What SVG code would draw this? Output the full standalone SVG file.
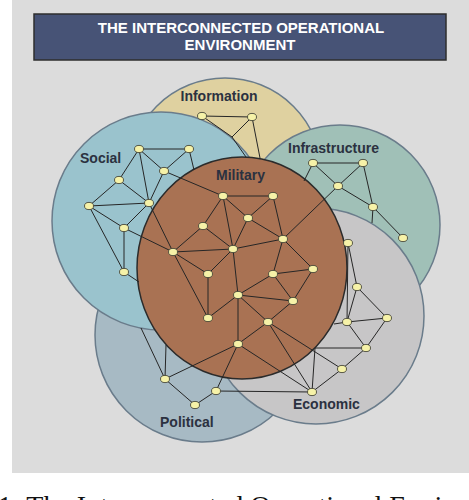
<svg xmlns="http://www.w3.org/2000/svg" width="469" height="500" viewBox="0 0 469 500">
<style>
.dom{stroke:#6a7c8b;stroke-width:1.5}
.lbl{font-family:"Liberation Sans",Arial,sans-serif;font-weight:bold;font-size:14px;fill:#2b3140}
.ttl{font-family:"Liberation Sans",Arial,sans-serif;font-weight:bold;font-size:15px;fill:#ffffff;text-anchor:middle}
#connectors line{stroke:#262626;stroke-width:1}
.n{fill:#f6f2a8;stroke:#4a4a3a;stroke-width:0.9}
</style>
<rect x="0" y="0" width="469" height="500" fill="#ffffff"/>
<rect x="12" y="0" width="457" height="473" fill="#dcdcdc"/>
<g id="title">
<rect x="34" y="14" width="412" height="46" fill="#475376" stroke="#2e2e2e" stroke-width="1.5"/>
<text class="ttl" x="241" y="33">THE INTERCONNECTED OPERATIONAL</text>
<text class="ttl" x="240" y="49.5">ENVIRONMENT</text>
</g>
<g id="information"><circle class="dom" cx="225" cy="175" r="97" fill="#dfd1a0"/></g>
<g id="infrastructure"><circle class="dom" cx="340" cy="225" r="100" fill="#a0c0b7"/></g>
<g id="political"><circle class="dom" cx="202" cy="335" r="107" fill="#a7bac4"/></g>
<g id="economic"><circle class="dom" cx="316" cy="316" r="108" fill="#c7c6c7"/></g>
<g id="social"><circle class="dom" cx="161" cy="221" r="109" fill="#9ac3cd"/></g>
<g id="military"><ellipse cx="242" cy="268" rx="105" ry="111" fill="#a97253" stroke="#2b2b2b" stroke-width="1.5"/></g>
<g id="connectors">
<line x1="202" y1="116" x2="252" y2="117"/>
<line x1="202" y1="116" x2="232" y2="137"/>
<line x1="252" y1="117" x2="232" y2="137"/>
<line x1="232" y1="137" x2="246" y2="157"/>
<line x1="252" y1="117" x2="260" y2="158"/>
<line x1="139" y1="149" x2="189" y2="149"/>
<line x1="139" y1="149" x2="164" y2="171"/>
<line x1="139" y1="149" x2="119" y2="180"/>
<line x1="139" y1="149" x2="149" y2="203"/>
<line x1="189" y1="149" x2="164" y2="171"/>
<line x1="189" y1="149" x2="194" y2="170"/>
<line x1="164" y1="171" x2="149" y2="203"/>
<line x1="164" y1="171" x2="223" y2="196"/>
<line x1="119" y1="180" x2="89" y2="206"/>
<line x1="119" y1="180" x2="149" y2="203"/>
<line x1="89" y1="206" x2="149" y2="203"/>
<line x1="89" y1="206" x2="124" y2="228"/>
<line x1="89" y1="206" x2="124" y2="272"/>
<line x1="149" y1="203" x2="124" y2="228"/>
<line x1="149" y1="203" x2="173" y2="252"/>
<line x1="124" y1="228" x2="124" y2="272"/>
<line x1="124" y1="228" x2="173" y2="252"/>
<line x1="124" y1="272" x2="139" y2="282"/>
<line x1="223" y1="196" x2="273" y2="196"/>
<line x1="223" y1="196" x2="248" y2="218"/>
<line x1="223" y1="196" x2="203" y2="226"/>
<line x1="223" y1="196" x2="233" y2="249"/>
<line x1="273" y1="196" x2="248" y2="218"/>
<line x1="273" y1="196" x2="283" y2="239"/>
<line x1="248" y1="218" x2="283" y2="239"/>
<line x1="248" y1="218" x2="233" y2="249"/>
<line x1="203" y1="226" x2="173" y2="252"/>
<line x1="203" y1="226" x2="233" y2="249"/>
<line x1="173" y1="252" x2="233" y2="249"/>
<line x1="233" y1="249" x2="283" y2="239"/>
<line x1="173" y1="252" x2="208" y2="274"/>
<line x1="173" y1="252" x2="208" y2="318"/>
<line x1="208" y1="274" x2="233" y2="249"/>
<line x1="208" y1="274" x2="208" y2="318"/>
<line x1="233" y1="249" x2="238" y2="295"/>
<line x1="283" y1="239" x2="273" y2="274"/>
<line x1="283" y1="239" x2="313" y2="269"/>
<line x1="283" y1="239" x2="338" y2="186"/>
<line x1="273" y1="274" x2="313" y2="269"/>
<line x1="273" y1="274" x2="238" y2="295"/>
<line x1="273" y1="274" x2="293" y2="301"/>
<line x1="313" y1="269" x2="293" y2="301"/>
<line x1="238" y1="295" x2="293" y2="301"/>
<line x1="238" y1="295" x2="208" y2="318"/>
<line x1="238" y1="295" x2="268" y2="322"/>
<line x1="238" y1="295" x2="238" y2="344"/>
<line x1="293" y1="301" x2="268" y2="322"/>
<line x1="268" y1="322" x2="238" y2="344"/>
<line x1="268" y1="322" x2="342" y2="369"/>
<line x1="268" y1="322" x2="312" y2="392"/>
<line x1="238" y1="344" x2="312" y2="392"/>
<line x1="238" y1="344" x2="165" y2="379"/>
<line x1="238" y1="344" x2="216" y2="391"/>
<line x1="313" y1="163" x2="363" y2="163"/>
<line x1="313" y1="163" x2="338" y2="186"/>
<line x1="363" y1="163" x2="338" y2="186"/>
<line x1="363" y1="163" x2="373" y2="207"/>
<line x1="338" y1="186" x2="373" y2="207"/>
<line x1="373" y1="207" x2="403" y2="238"/>
<line x1="313" y1="163" x2="304" y2="181"/>
<line x1="373" y1="207" x2="372" y2="223"/>
<line x1="348" y1="243" x2="357" y2="287"/>
<line x1="348" y1="243" x2="347" y2="322"/>
<line x1="357" y1="287" x2="387" y2="318"/>
<line x1="357" y1="287" x2="347" y2="322"/>
<line x1="387" y1="318" x2="347" y2="322"/>
<line x1="387" y1="318" x2="366" y2="348"/>
<line x1="347" y1="322" x2="366" y2="348"/>
<line x1="366" y1="348" x2="342" y2="369"/>
<line x1="342" y1="369" x2="312" y2="392"/>
<line x1="312" y1="392" x2="315" y2="348"/>
<line x1="315" y1="348" x2="366" y2="348"/>
<line x1="347" y1="322" x2="334" y2="324"/>
<line x1="312" y1="392" x2="216" y2="391"/>
<line x1="165" y1="379" x2="195" y2="405"/>
<line x1="195" y1="405" x2="216" y2="391"/>
<line x1="165" y1="379" x2="141" y2="328"/>
<line x1="165" y1="379" x2="166" y2="345"/>
</g>
<g id="nodes">
<ellipse class="n" cx="202" cy="116" rx="4.5" ry="3.6"/>
<ellipse class="n" cx="252" cy="117" rx="4.5" ry="3.6"/>
<ellipse class="n" cx="139" cy="149" rx="4.5" ry="3.6"/>
<ellipse class="n" cx="189" cy="149" rx="4.5" ry="3.6"/>
<ellipse class="n" cx="164" cy="171" rx="4.5" ry="3.6"/>
<ellipse class="n" cx="119" cy="180" rx="4.5" ry="3.6"/>
<ellipse class="n" cx="89" cy="206" rx="4.5" ry="3.6"/>
<ellipse class="n" cx="149" cy="203" rx="4.5" ry="3.6"/>
<ellipse class="n" cx="124" cy="228" rx="4.5" ry="3.6"/>
<ellipse class="n" cx="124" cy="272" rx="4.5" ry="3.6"/>
<ellipse class="n" cx="313" cy="163" rx="4.5" ry="3.6"/>
<ellipse class="n" cx="363" cy="163" rx="4.5" ry="3.6"/>
<ellipse class="n" cx="338" cy="186" rx="4.5" ry="3.6"/>
<ellipse class="n" cx="373" cy="207" rx="4.5" ry="3.6"/>
<ellipse class="n" cx="403" cy="238" rx="4.5" ry="3.6"/>
<ellipse class="n" cx="223" cy="196" rx="4.5" ry="3.6"/>
<ellipse class="n" cx="273" cy="196" rx="4.5" ry="3.6"/>
<ellipse class="n" cx="248" cy="218" rx="4.5" ry="3.6"/>
<ellipse class="n" cx="203" cy="226" rx="4.5" ry="3.6"/>
<ellipse class="n" cx="283" cy="239" rx="4.5" ry="3.6"/>
<ellipse class="n" cx="173" cy="252" rx="4.5" ry="3.6"/>
<ellipse class="n" cx="233" cy="249" rx="4.5" ry="3.6"/>
<ellipse class="n" cx="208" cy="274" rx="4.5" ry="3.6"/>
<ellipse class="n" cx="273" cy="274" rx="4.5" ry="3.6"/>
<ellipse class="n" cx="313" cy="269" rx="4.5" ry="3.6"/>
<ellipse class="n" cx="238" cy="295" rx="4.5" ry="3.6"/>
<ellipse class="n" cx="293" cy="301" rx="4.5" ry="3.6"/>
<ellipse class="n" cx="208" cy="318" rx="4.5" ry="3.6"/>
<ellipse class="n" cx="268" cy="322" rx="4.5" ry="3.6"/>
<ellipse class="n" cx="238" cy="344" rx="4.5" ry="3.6"/>
<ellipse class="n" cx="348" cy="243" rx="4.5" ry="3.6"/>
<ellipse class="n" cx="357" cy="287" rx="4.5" ry="3.6"/>
<ellipse class="n" cx="387" cy="318" rx="4.5" ry="3.6"/>
<ellipse class="n" cx="347" cy="322" rx="4.5" ry="3.6"/>
<ellipse class="n" cx="366" cy="348" rx="4.5" ry="3.6"/>
<ellipse class="n" cx="342" cy="369" rx="4.5" ry="3.6"/>
<ellipse class="n" cx="312" cy="392" rx="4.5" ry="3.6"/>
<ellipse class="n" cx="165" cy="379" rx="4.5" ry="3.6"/>
<ellipse class="n" cx="195" cy="405" rx="4.5" ry="3.6"/>
<ellipse class="n" cx="216" cy="391" rx="4.5" ry="3.6"/>
</g>
<g id="labels">
<text class="lbl" x="219" y="101" text-anchor="middle">Information</text>
<text class="lbl" x="80" y="163">Social</text>
<text class="lbl" x="288" y="153">Infrastructure</text>
<text class="lbl" x="216" y="180">Military</text>
<text class="lbl" x="293" y="409">Economic</text>
<text class="lbl" x="160" y="427">Political</text>
</g>
<text x="-2" y="515" font-family="'Liberation Serif','Times New Roman',serif" font-size="28" fill="#111">1: The Interconnected Operational Environment</text>
</svg>
